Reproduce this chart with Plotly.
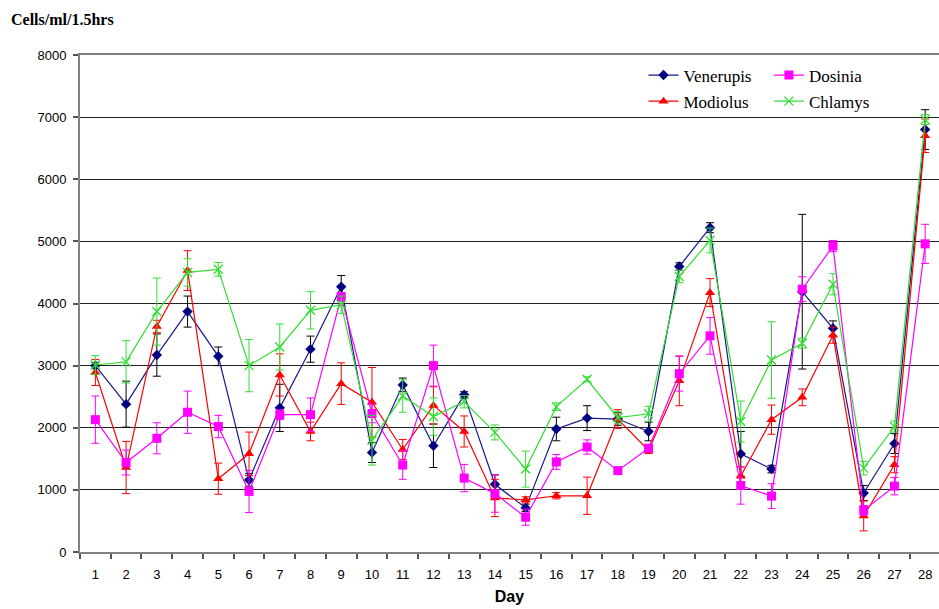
import plotly.graph_objects as go

days = [str(d) for d in range(1, 29)]

venerupis = [3000, 2380, 3170, 3870, 3150, 1160, 2320, 3265, 4270, 1600, 2690, 1710, 2530, 1090,
             710, 1980, 2155, 2140, 1940, 4595, 5220, 1580, 1335, 4190, 3600, 950, 1745, 6800]
venerupis_err = [50, 370, 340, 250, 150, 100, 380, 210, 180, 160, 110, 350, 50, 150,
                 60, 190, 200, 100, 150, 60, 80, 360, 60, 1245, 120, 120, 160, 320]

dosinia = [2130, 1440, 1830, 2250, 2020, 975, 2210, 2210, 4110, 2230, 1400, 3000, 1190, 940,
           560, 1450, 1690, 1310, 1670, 2870, 3480, 1070, 900, 4230, 4925, 670, 1060, 4960]
dosinia_err = [380, 200, 250, 340, 180, 340, 80, 270, 60, 150, 230, 330, 220, 300,
               130, 120, 115, 50, 60, 280, 295, 300, 200, 200, 90, 80, 140, 315]

modiolus = [2890, 1360, 3630, 4530, 1180, 1580, 2850, 1940, 2710, 2410, 1650, 2360, 1940, 870,
            840, 905, 905, 2140, 1635, 2755, 4175, 1220, 2130, 2490, 3490, 580, 1405, 6700]
modiolus_err = [210, 420, 100, 320, 250, 350, 340, 150, 335, 560, 160, 300, 250, 300,
                50, 50, 300, 150, 50, 400, 225, 150, 235, 135, 130, 240, 130, 270]

chlamys = [3010, 3060, 3870, 4500, 4550, 3000, 3300, 3890, 3980, 1800, 2510, 2180, 2420, 1925,
           1335, 2340, 2780, 2165, 2225, 4435, 5015, 2100, 3090, 3360, 4310, 1350, 2020, 6960]
chlamys_err = [150, 340, 540, 220, 110, 420, 370, 300, 140, 400, 260, 300, 100, 120,
               290, 60, 40, 100, 120, 100, 200, 330, 615, 80, 170, 110, 90, 80]

y_ticks = [0, 1000, 2000, 3000, 4000, 5000, 6000, 7000, 8000]

series = [
    ("Venerupis", venerupis, venerupis_err, "#000080", "#1a1a8c", "black", "diamond", 8, "legend", "g1"),
    ("Modiolus", modiolus, modiolus_err, "#ff0000", "#ff0000", "#ff0000", "triangle-up", 9, "legend", "g2"),
    ("Dosinia", dosinia, dosinia_err, "#ff00ff", "#ff00ff", "#ff00ff", "square", 9, "legend2", "g3"),
    ("Chlamys", chlamys, chlamys_err, "#33dd33", "#33dd33", "#33dd33", "x-thin", 9, "legend2", "g4"),
]

fig = go.Figure()
for name, vals, errs, mcol, lcol, ecol, sym, msize, leg, grp in series:
    marker = dict(symbol=sym, size=msize, color=mcol)
    if sym == "x-thin":
        marker["line"] = dict(color=mcol, width=1.3)
    fig.add_trace(go.Scatter(
        x=days, y=vals, name=name, mode="lines+markers",
        line=dict(color=lcol, width=1.2),
        marker=marker,
        error_y=dict(type="data", array=errs, visible=True, color=ecol, thickness=1, width=4),
        legend=leg, legendgroup=grp,
    ))

legend_common = dict(
    font=dict(family="Liberation Serif, Times New Roman, serif", size=17, color="black"),
    bgcolor="rgba(0,0,0,0)", borderwidth=0, orientation="v",
    yanchor="top", xanchor="left", tracegroupgap=1, itemwidth=30,
)

fig.update_layout(
    width=939, height=609,
    margin=dict(l=80, r=0, t=55, b=57),
    paper_bgcolor="white", plot_bgcolor="white",
    showlegend=True,
    legend=dict(x=0.656, y=0.995, **legend_common),
    legend2=dict(x=0.802, y=0.995, **legend_common),
    xaxis=dict(
        type="category", range=[-0.5, 27.45],
        tickson="boundaries", ticks="outside", ticklen=5, tickcolor="#555", tickwidth=1.5,
        showline=True, linecolor="#808080", linewidth=2, mirror=True,
        showgrid=False, ticklabelstandoff=9,
        tickfont=dict(family="Liberation Sans, Arial", size=13, color="black"),
        title=dict(text="<b>Day</b>", font=dict(family="Liberation Sans, Arial", size=16, color="black"), standoff=10),
    ),
    yaxis=dict(
        range=[0, 8000], tickvals=y_ticks, ticktext=[str(v) for v in y_ticks],
        ticks="outside", ticklen=5, tickcolor="#555", tickwidth=1.5,
        showline=True, linecolor="#808080", linewidth=2,
        showgrid=True, gridcolor="#222", gridwidth=1, zeroline=False,
        ticklabelstandoff=4,
        tickfont=dict(family="Liberation Sans, Arial", size=13, color="black"),
    ),
    annotations=[dict(
        text="<b>Cells/ml/1.5hrs</b>", xref="paper", yref="paper",
        x=-0.083, y=1.072, xanchor="left", yanchor="middle", showarrow=False,
        font=dict(family="Liberation Serif, Times New Roman, serif", size=16, color="black"),
    )],
)

fig.write_html("out.html")
